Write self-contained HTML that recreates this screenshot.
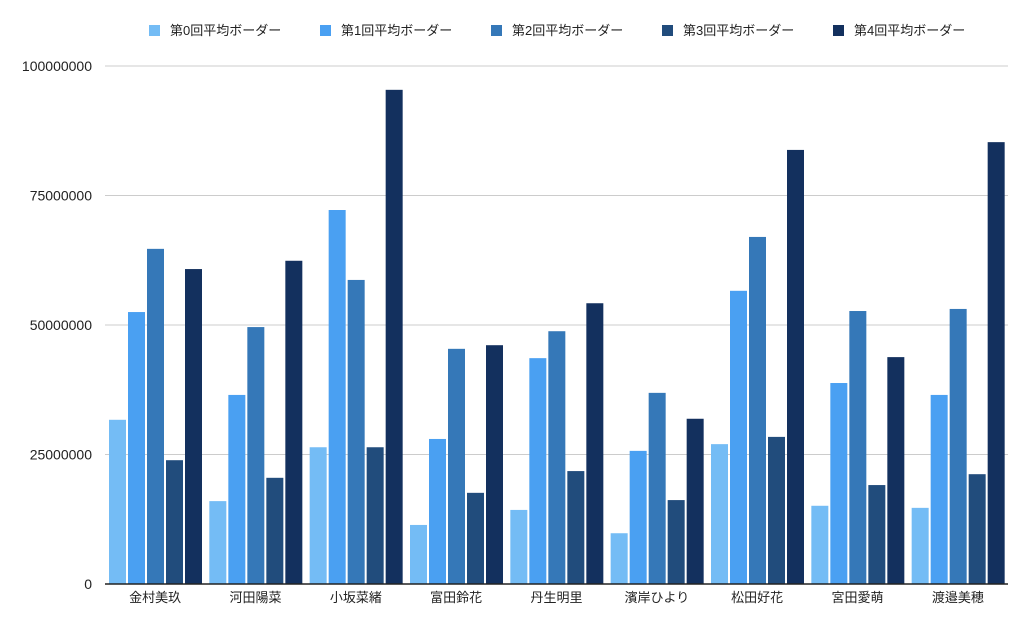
<!DOCTYPE html>
<html><head><meta charset="utf-8"><style>
body{margin:0;background:#fff;}
svg text{font-family:"Liberation Sans","Noto Sans CJK JP",sans-serif;fill:#222;}
</style></head><body>
<svg id="chart" width="1024" height="639" viewBox="0 0 1024 639" xmlns="http://www.w3.org/2000/svg"></svg>
<script>
const categories=["金村美玖","河田陽菜","小坂菜緒","富田鈴花","丹生明里","濱岸ひより","松田好花","宮田愛萌","渡邉美穂"];
const seriesNames=["第0回平均ボーダー","第1回平均ボーダー","第2回平均ボーダー","第3回平均ボーダー","第4回平均ボーダー"];
const s0=[31.7,16.0,26.4,11.4,14.3,9.8,27.0,15.1,14.7];
const s1=[52.5,36.5,72.2,28.0,43.6,25.7,56.6,38.8,36.5];
const s2=[64.7,49.6,58.7,45.4,48.8,36.9,67.0,52.7,53.1];
const s3=[23.9,20.5,26.4,17.6,21.8,16.2,28.4,19.1,21.2];
const s4=[60.8,62.4,95.4,46.1,54.2,31.9,83.8,43.8,85.3];
const yTicks=[0,25000000,50000000,75000000,100000000];
const series=[s0,s1,s2,s3,s4];
const colors=["#74bcf5","#4aa0f2","#3578b8","#214c7c","#13305e"];
const NS="http://www.w3.org/2000/svg";
const svg=document.getElementById('chart');
const L=105,R=1008,T=66,B=584;
const y=v=>B-(v/100000000)*(B-T);
const gw=(R-L)/categories.length;
function el(t,a){const e=document.createElementNS(NS,t);for(const k in a)e.setAttribute(k,a[k]);svg.appendChild(e);return e;}
yTicks.forEach(v=>{
 if(v>0){const g=el('line',{x1:L,x2:R,y1:y(v),y2:y(v),stroke:'#cccccc','stroke-width':1});
 
 }
 const t=el('text',{x:92,y:y(v)+5,'text-anchor':'end','font-size':14});
 t.textContent=String(v);
 
 
});
categories.forEach((c,i)=>{
 const x0=L+i*gw+4;
 series.forEach((s,j)=>{
  const v=s[i]*1000000;
  const r=el('rect',{x:x0+j*19,y:y(v),width:17,height:B-y(v),fill:colors[j]});
  
  
 });
 const t=el('text',{x:L+i*gw+gw/2,y:602,'text-anchor':'middle','font-size':13});
 t.textContent=c;
 
 
});
const ax=el('line',{x1:L,x2:R,y1:B,y2:B,stroke:'#222','stroke-width':1.5});


seriesNames.forEach((n,j)=>{
 const lx=149+j*171;
 const r=el('rect',{x:lx,y:25,width:11,height:11,fill:colors[j]});
 
 
 const t=el('text',{x:lx+21,y:35,'font-size':13});
 t.textContent=n;
 
 
});
</script>
</body></html>
